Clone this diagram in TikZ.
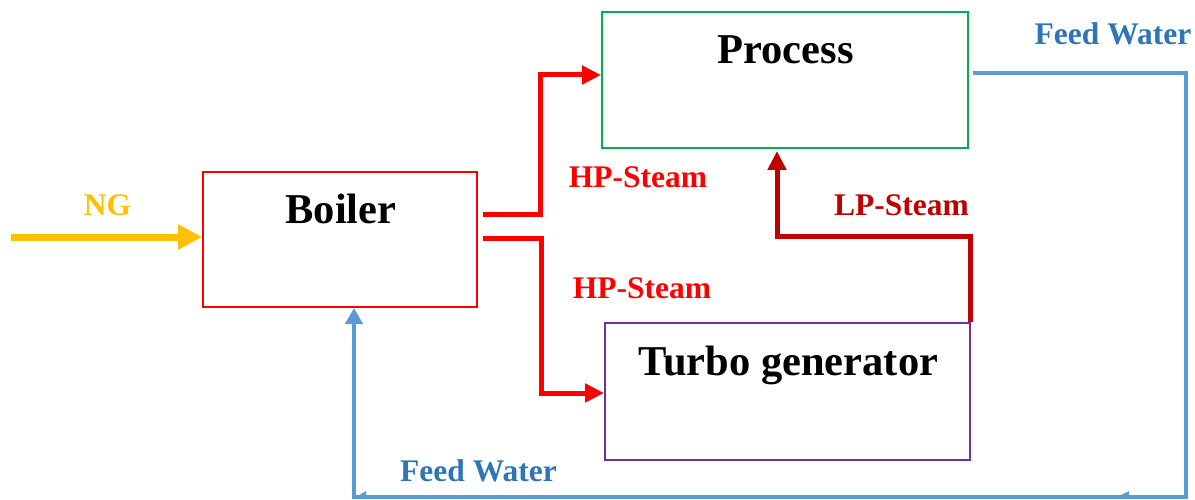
\documentclass[tikz,border=0pt]{standalone}
\usepackage{fontspec}
\setmainfont{Liberation Serif}
\usetikzlibrary{arrows.meta}
\definecolor{hpred}{HTML}{FF0000}
\definecolor{lpred}{HTML}{C00000}
\definecolor{ngyel}{HTML}{FFC000}
\definecolor{fwline}{HTML}{5B9BD5}
\definecolor{fwtext}{HTML}{2E75B6}
\definecolor{procgreen}{HTML}{00B050}
\definecolor{turbopurple}{HTML}{7030A0}
\tikzset{
  box/.style={draw, line width=2pt, inner sep=0pt},
  bigtxt/.style={anchor=base, inner sep=0pt, font=\fontsize{42.5}{42.5}\selectfont\bfseries},
  lbl/.style={anchor=base, inner sep=0pt, font=\fontsize{31.5}{31.5}\selectfont\bfseries},
  hp/.style={draw=hpred, line width=5pt, -{Triangle[length=19pt,width=18pt]}},
  lp/.style={draw=lpred, line width=5pt, -{Triangle[length=19pt,width=18pt]}},
  ng/.style={draw=ngyel, line width=7pt, -{Triangle[length=24pt,width=24pt]}},
  fw/.style={draw=fwline, line width=4pt, -{Triangle[length=16pt,width=17pt]}},
}
\begin{document}
\begin{tikzpicture}[x=1pt,y=-1pt]
\useasboundingbox (0,0) rectangle (1195,500);
% boxes
\node[box, draw=hpred, minimum width=274pt, minimum height=135pt] (boiler) at (340,239.5) {};
\node[box, draw=procgreen, minimum width=366pt, minimum height=136pt] (process) at (785,80) {};
\node[box, draw=turbopurple, minimum width=365pt, minimum height=137pt] (turbo) at (787.5,391.5) {};
% box texts
\node[bigtxt] (tboiler) at (341,223) {Boiler};
\node[bigtxt] (tprocess) at (785.5,64) {Process};
\node[bigtxt] (tturbo) at (788.5,375) {Turbo generator};
% labels
\node[lbl, text=ngyel] (lng) at (107.5,215) {NG};
\node[lbl, text=hpred] (lhp1) at (638,188) {HP-Steam};
\node[lbl, text=hpred] (lhp2) at (642,298) {HP-Steam};
\node[lbl, text=lpred] (llp) at (901.5,215) {LP-Steam};
\node[lbl, text=fwtext] (lfw1) at (1113,45) {Feed Water};
\node[lbl, text=fwtext] (lfw2) at (478.5,481) {Feed Water};
% NG
\coordinate (ngs) at (11,237);
\draw[ng] (ngs) -- ([yshift=2.5pt]boiler.west);
% HP steam to process
\coordinate (hp1s) at ([xshift=5pt,yshift=24.5pt]boiler.east);
\coordinate (hp1t) at ([yshift=5pt]process.west);
\draw[hp] (hp1s) -| ([xshift=-61pt]hp1t) -- (hp1t);
% HP steam to turbo
\coordinate (hp2s) at ([xshift=5pt,yshift=1.5pt]boiler.east);
\coordinate (hp2t) at ([yshift=-1.5pt]turbo.west);
\draw[hp] (hp2s) -| ([xshift=-63pt]hp2t) -- (hp2t);
% LP steam
\coordinate (lpc) at (777,236);
\coordinate (lpe) at ([xshift=-8pt,yshift=-2pt]process.south);
\draw[lp] ([xshift=-1pt]turbo.north east) |- (lpc) -- (lpe);
% Feed water
\coordinate (fws) at ([xshift=4pt,yshift=7pt]process.east);
\coordinate (fwc) at (1186,497);
\coordinate (fwe) at ([xshift=14pt]boiler.south);
\draw[fw] (fws) -| (fwc) -| (fwe);
% small marks on return line
\fill[fwline] (1117,497) -- (1129,491) -- (1129,497) -- cycle;
\fill[fwline] (356,497) -- (366,491) -- (366,497) -- cycle;
\end{tikzpicture}
\end{document}
